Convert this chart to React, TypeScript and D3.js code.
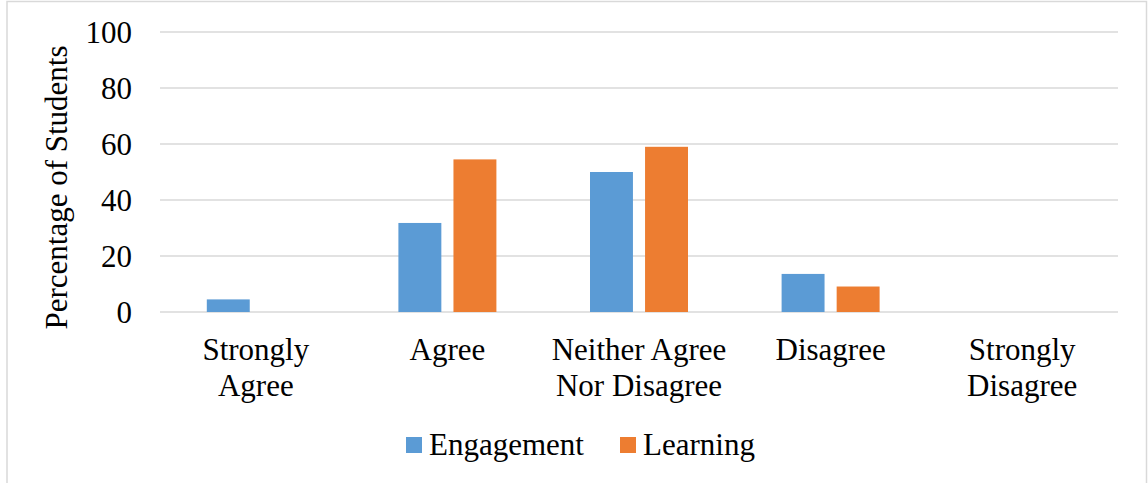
import React from "react";
import * as d3 from "d3";

const categories: string[][] = [
  ["Strongly", "Agree"],
  ["Agree"],
  ["Neither Agree", "Nor Disagree"],
  ["Disagree"],
  ["Strongly", "Disagree"],
];
const seriesNames = ["Engagement", "Learning"];
const engagement = [4.5, 31.8, 50, 13.6, 0];
const learning = [0, 54.5, 59, 9.1, 0];
const yTicks = [0, 20, 40, 60, 80, 100];
const colors = ["#5B9BD5", "#ED7D31"];

const W = 1148;
const H = 483;
const FONT = "'Liberation Serif', 'Times New Roman', serif";

export default function App() {
  const left = 160;
  const right = 1118;
  const top = 32;
  const bottom = 312;
  const catKeys = categories.map((c) => c.join(" "));
  const x0 = d3.scaleBand<string>().domain(catKeys).range([left, right]).paddingInner(0).paddingOuter(0);
  const x1 = d3.scaleBand<string>().domain(seriesNames).range([-49, 49]).paddingInner(0.22);
  const y = d3.scaleLinear().domain([0, 100]).range([bottom, top]);
  const values = [engagement, learning];

  return (
    <svg width={W} height={H} style={{ position: "absolute", left: 0, top: 0 }} fontFamily={FONT}>
      <rect x={0} y={0} width={W} height={H} fill="#fff" />
      <rect x={7} y={1.5} width={1139.5} height={H + 10} fill="none" stroke="#d9d9d9" strokeWidth={1.5} />
      {yTicks.map((t) => (
        <g key={t}>
          <line x1={left} x2={right} y1={y(t)} y2={y(t)} stroke="#d9d9d9" strokeWidth={1.5} />
          <text x={132} y={y(t) + 11} textAnchor="end" fontSize={31} fill="#000">
            {t}
          </text>
        </g>
      ))}
      {catKeys.map((k, i) => {
        const cx = (x0(k) as number) + x0.bandwidth() / 2;
        return (
          <g key={k}>
            {seriesNames.map((s, j) => {
              const v = values[j][i];
              if (v <= 0) return null;
              return (
                <rect
                  key={s}
                  x={cx + (x1(s) as number)}
                  y={y(v)}
                  width={x1.bandwidth()}
                  height={y(0) - y(v)}
                  fill={colors[j]}
                />
              );
            })}
            {categories[i].map((line, li) => (
              <text key={li} x={cx} y={360 + li * 36} textAnchor="middle" fontSize={31} fill="#000">
                {line}
              </text>
            ))}
          </g>
        );
      })}
      <text
        transform={`translate(67, 187.5) rotate(-90)`}
        textAnchor="middle"
        fontSize={31}
        fill="#000"
      >
        Percentage of Students
      </text>
      {seriesNames.map((s, j) => {
        const lx = j === 0 ? 406 : 620;
        return (
          <g key={s}>
            <rect x={lx} y={437} width={16} height={16} fill={colors[j]} />
            <text x={lx + 23} y={455} fontSize={31} fill="#000">
              {s}
            </text>
          </g>
        );
      })}
    </svg>
  );
}
